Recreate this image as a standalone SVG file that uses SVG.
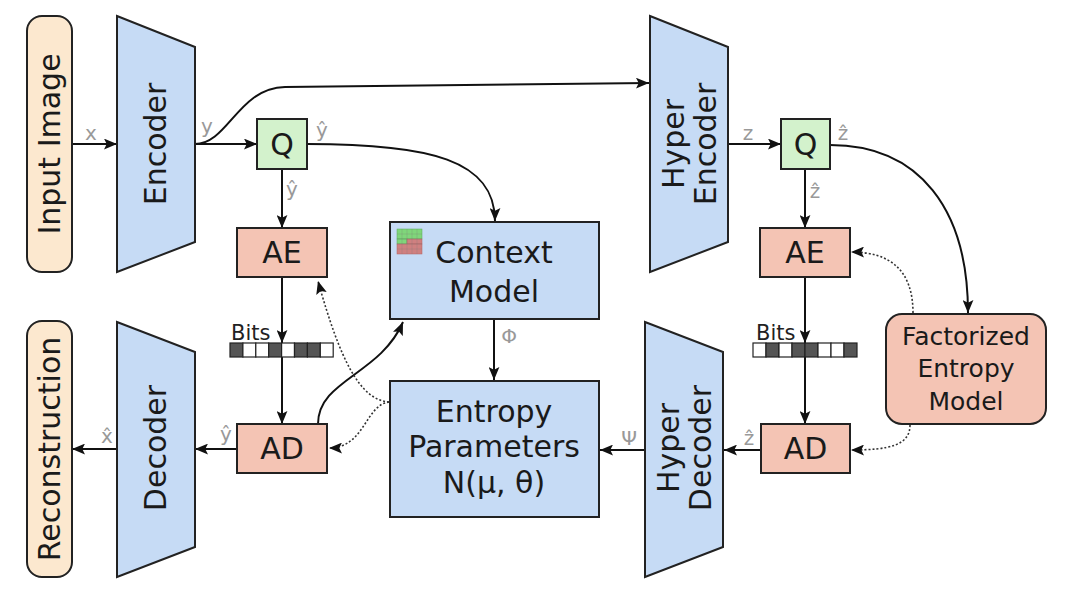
<svg xmlns="http://www.w3.org/2000/svg" width="1080" height="591" viewBox="0 0 1080 591">
<style>
.box{stroke:#222;stroke-width:2}
.blue{fill:#c6dbf5}
.sal{fill:#f4c4b4}
.grn{fill:#d3f2cc}
.bei{fill:#fce8cf}
.t{font-family:"DejaVu Sans",sans-serif;fill:#1a1a1a;text-anchor:middle}
.big{font-size:30px}
.mid{font-size:30px}
.fm{font-size:25px}
.lbl{font-family:"DejaVu Sans",sans-serif;font-size:20px;fill:#999;text-anchor:middle}
.bits{font-family:"DejaVu Sans",sans-serif;font-size:21px;fill:#222}
.c{fill:none;stroke:#111;stroke-width:2}
.d{fill:none;stroke:#333;stroke-width:1.6;stroke-dasharray:2 2}
.cd{fill:#555;stroke:#222;stroke-width:1.2}
.cw{fill:#fff;stroke:#222;stroke-width:1.2}
</style>
<defs>
<marker id="ah" viewBox="0 0 12 10" refX="12" refY="5" markerWidth="13" markerHeight="11" orient="auto" markerUnits="userSpaceOnUse">
<path d="M0,0 L12,5 L0,10 L2.5,5 z" fill="#111"/>
</marker>
</defs>
<rect width="1080" height="591" fill="#fff"/>

<g id="connectors">
<line class="c" x1="72" y1="144" x2="117" y2="144" marker-end="url(#ah)"/>
<line class="c" x1="195" y1="144" x2="257" y2="144" marker-end="url(#ah)"/>
<path class="c" d="M195,144 C228,144 238,88 285,87 L649,83" marker-end="url(#ah)"/>
<path class="c" d="M307,144 C430,144 495,160 495,221" marker-end="url(#ah)"/>
<line class="c" x1="282" y1="169" x2="282" y2="228" marker-end="url(#ah)"/>
<line class="c" x1="282" y1="277" x2="282" y2="343" marker-end="url(#ah)"/>
<line class="c" x1="282" y1="357" x2="282" y2="424" marker-end="url(#ah)"/>
<line class="c" x1="494" y1="319" x2="494" y2="380" marker-end="url(#ah)"/>
<path class="c" d="M318,424 C318,380 380,375 403,322" marker-end="url(#ah)"/>
<path class="d" d="M389,402 C360,400 340,360 318,281" marker-end="url(#ah)"/>
<path class="d" d="M389,402 C365,405 365,448 329,448" marker-end="url(#ah)"/>
<line class="c" x1="237" y1="449" x2="195" y2="449" marker-end="url(#ah)"/>
<line class="c" x1="117" y1="449" x2="72" y2="449" marker-end="url(#ah)"/>
<line class="c" x1="728" y1="144" x2="781" y2="144" marker-end="url(#ah)"/>
<path class="c" d="M830,145 C920,145 968,210 968,313" marker-end="url(#ah)"/>
<line class="c" x1="805" y1="169" x2="805" y2="228" marker-end="url(#ah)"/>
<line class="c" x1="805" y1="277" x2="805" y2="343" marker-end="url(#ah)"/>
<line class="c" x1="805" y1="357" x2="805" y2="424" marker-end="url(#ah)"/>
<path class="d" d="M913,313 C913,270 890,252 851,252" marker-end="url(#ah)"/>
<path class="d" d="M910,425 C910,445 890,450 851,450" marker-end="url(#ah)"/>
<line class="c" x1="761" y1="450" x2="724" y2="450" marker-end="url(#ah)"/>
<line class="c" x1="645" y1="450" x2="600" y2="450" marker-end="url(#ah)"/>
<text class="lbl" x="91" y="140">x</text>
<text class="lbl" x="207" y="133">y</text>
<text class="lbl" x="322" y="137">ŷ</text>
<text class="lbl" x="292" y="196">ŷ</text>
<text class="lbl" x="509" y="343">Φ</text>
<text class="lbl" x="226" y="441">ŷ</text>
<text class="lbl" x="107" y="443">x̂</text>
<text class="lbl" x="748" y="140">z</text>
<text class="lbl" x="843" y="140">ẑ</text>
<text class="lbl" x="815" y="198">ẑ</text>
<text class="lbl" x="749" y="445">ẑ</text>
<text class="lbl" x="629" y="445">Ψ</text>
</g>

<g id="input-image">
<rect class="box bei" x="27" y="16" width="45" height="256" rx="15"/>
<text class="t big" transform="rotate(-90 49 144)" x="49" y="144" dominant-baseline="central">Input Image</text>
</g>
<g id="encoder">
<path class="box blue" d="M117,16 L195,47 L195,242 L117,272 z"/>
<text class="t big" transform="rotate(-90 155 144)" x="155" y="144" dominant-baseline="central">Encoder</text>
</g>
<g id="q1">
<rect class="box grn" x="257" y="119" width="50" height="50"/>
<text class="t big" x="282" y="155">Q</text>
</g>
<g id="ae1">
<rect class="box sal" x="237" y="228" width="90" height="49"/>
<text class="t big" x="282" y="263">AE</text>
</g>
<g id="bits1">
<text class="bits" x="231" y="340">Bits</text>
<rect class="cd" x="230" y="343" width="12.9" height="14"/>
<rect class="cw" x="242.9" y="343" width="12.9" height="14"/>
<rect class="cw" x="255.8" y="343" width="12.9" height="14"/>
<rect class="cd" x="268.7" y="343" width="12.9" height="14"/>
<rect class="cw" x="281.6" y="343" width="12.9" height="14"/>
<rect class="cd" x="294.5" y="343" width="12.9" height="14"/>
<rect class="cd" x="307.4" y="343" width="12.9" height="14"/>
<rect class="cw" x="320.3" y="343" width="12.9" height="14"/>
</g>
<g id="ad1">
<rect class="box sal" x="237" y="424" width="90" height="49"/>
<text class="t big" x="282" y="459">AD</text>
</g>
<g id="decoder">
<path class="box blue" d="M117,322 L195,352 L195,547 L117,577 z"/>
<text class="t big" transform="rotate(-90 155 448)" x="155" y="448" dominant-baseline="central">Decoder</text>
</g>
<g id="reconstruction">
<rect class="box bei" x="27" y="321" width="45" height="256" rx="15"/>
<text class="t big" transform="rotate(-90 49 449)" x="49" y="449" dominant-baseline="central">Reconstruction</text>
</g>
<g id="context-model">
<rect class="box blue" x="390" y="222" width="209" height="97"/>
<g id="mask-icon" stroke="#b06060" stroke-width="0.5">
<rect x="397" y="229" width="25" height="10" fill="#7fd67a" stroke="#5aa85a"/>
<rect x="397" y="239" width="10" height="5" fill="#7fd67a" stroke="#5aa85a"/>
<rect x="407" y="239" width="15" height="5" fill="#cf8080"/>
<rect x="397" y="244" width="25" height="10" fill="#cf8080"/>
<path d="M402,229 V254 M407,229 V254 M412,229 V254 M417,229 V254 M397,234 H422 M397,239 H422 M397,244 H422 M397,249 H422" stroke="#777" stroke-opacity="0.5"/>
</g>
<text class="t big" x="494" y="263">Context</text>
<text class="t big" x="494" y="302">Model</text>
</g>
<g id="entropy-parameters">
<rect class="box blue" x="390" y="381" width="209" height="136"/>
<text class="t mid" x="494" y="422">Entropy</text>
<text class="t mid" x="494" y="457">Parameters</text>
<text class="t mid" x="494" y="493">N(μ, θ)</text>
</g>
<g id="hyper-encoder">
<path class="box blue" d="M650,16 L728,47 L728,242 L650,272 z"/>
<text class="t big" transform="rotate(-90 689 144)" x="689" y="144" dominant-baseline="central"><tspan x="689" dy="-16">Hyper</tspan><tspan x="689" dy="32">Encoder</tspan></text>
</g>
<g id="q2">
<rect class="box grn" x="781" y="119" width="49" height="50"/>
<text class="t big" x="805.5" y="155">Q</text>
</g>
<g id="ae2">
<rect class="box sal" x="760" y="228" width="90" height="49"/>
<text class="t big" x="805" y="263">AE</text>
</g>
<g id="bits2">
<text class="bits" x="756" y="340">Bits</text>
<rect class="cw" x="753" y="343" width="13" height="14"/>
<rect class="cd" x="766" y="343" width="13" height="14"/>
<rect class="cw" x="779" y="343" width="13" height="14"/>
<rect class="cd" x="792" y="343" width="13" height="14"/>
<rect class="cd" x="805" y="343" width="13" height="14"/>
<rect class="cw" x="818" y="343" width="13" height="14"/>
<rect class="cw" x="831" y="343" width="13" height="14"/>
<rect class="cd" x="844" y="343" width="13" height="14"/>
</g>
<g id="ad2">
<rect class="box sal" x="761" y="424" width="89" height="49"/>
<text class="t big" x="805.5" y="459">AD</text>
</g>
<g id="hyper-decoder">
<path class="box blue" d="M645,322 L723,352 L723,547 L645,577 z"/>
<text class="t big" transform="rotate(-90 684 448)" x="684" y="448" dominant-baseline="central"><tspan x="684" dy="-16">Hyper</tspan><tspan x="684" dy="32">Decoder</tspan></text>
</g>
<g id="factorized-entropy-model">
<rect class="box sal" x="886" y="314" width="160" height="110" rx="16"/>
<text class="t fm" x="966" y="345">Factorized</text>
<text class="t fm" x="966" y="377">Entropy</text>
<text class="t fm" x="966" y="410">Model</text>
</g>
</svg>
